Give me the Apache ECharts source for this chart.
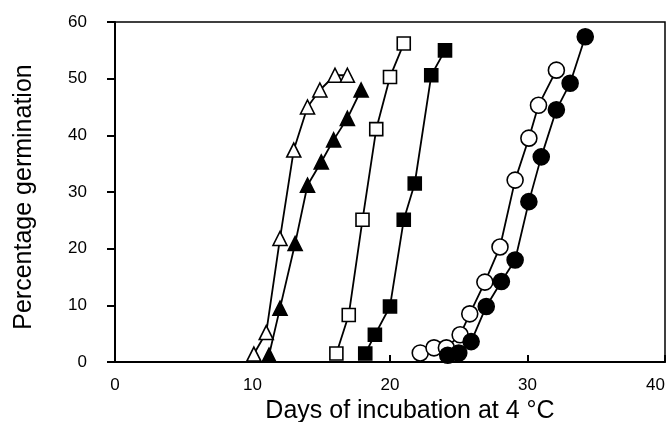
<!DOCTYPE html>
<html>
<head>
<meta charset="utf-8">
<script src="https://cdn.jsdelivr.net/npm/echarts@6/dist/echarts.min.js"></script>
<style>html,body{margin:0;padding:0;background:#fff}#c{width:668px;height:422px}</style>
</head>
<body>
<div id="c"></div>
<script>
// Data (days of incubation, percentage germination)
var xTicks = [0, 10, 20, 30, 40];
var yTicks = [0, 10, 20, 30, 40, 50, 60];

var openTriDays = [10.1, 11.0, 12.0, 13.0, 14.0, 14.9, 16.0, 16.9];
var openTriPct  = [1.4, 5.2, 21.8, 37.4, 45.0, 48.0, 50.6, 50.6];

var fillTriDays = [11.2, 12.0, 13.1, 14.0, 15.0, 15.9, 16.9, 17.9];
var fillTriPct  = [1.2, 9.5, 20.9, 31.2, 35.3, 39.2, 43.0, 48.0];

var openSqDays = [16.1, 17.0, 18.0, 19.0, 20.0, 21.0];
var openSqPct  = [1.5, 8.3, 25.1, 41.1, 50.3, 56.2];

var fillSqDays = [18.2, 18.9, 20.0, 21.0, 21.8, 23.0, 24.0];
var fillSqPct  = [1.5, 4.8, 9.8, 25.1, 31.5, 50.6, 55.0];

var openCircDays = [22.2, 23.2, 24.1, 25.1, 25.8, 26.9, 28.0, 29.1, 30.1, 30.8, 32.1];
var openCircPct  = [1.6, 2.5, 2.5, 4.8, 8.5, 14.1, 20.3, 32.1, 39.5, 45.3, 51.5];

var fillCircDays = [24.2, 25.0, 25.9, 27.0, 28.1, 29.1, 30.1, 31.0, 32.1, 33.1, 34.2];
var fillCircPct  = [1.2, 1.6, 3.6, 9.8, 14.2, 18.0, 28.3, 36.2, 44.5, 49.2, 57.4];

function pairs(xs, ys) { return xs.map(function (x, i) { return [x, ys[i]]; }); }

function mk(xs, ys, symbol, size, filled) {
  return {
    type: 'line',
    data: pairs(xs, ys),
    symbol: symbol,
    symbolSize: size,
    showAllSymbol: true,
    lineStyle: { color: '#000', width: 1.8 },
    itemStyle: { color: filled ? '#000' : '#fff', borderColor: '#000', borderWidth: 1.6 },
    emphasis: { disabled: true },
    animation: false,
    z: filled ? 3 : 2
  };
}

var chart = echarts.init(document.getElementById('c'), null, { renderer: 'canvas' });
var font = '"Liberation Sans", Arial, Helvetica, sans-serif';
chart.setOption({
  animation: false,
  backgroundColor: '#fff',
  grid: {
    left: 115, right: 3, top: 22, bottom: 60,
    outerBoundsMode: 'none', containLabel: false,
    show: true, borderColor: '#000', borderWidth: 1.5, backgroundColor: 'transparent'
  },
  xAxis: {
    type: 'value', min: xTicks[0], max: xTicks[xTicks.length - 1], interval: 10,
    name: 'Days of incubation at 4 °C', nameLocation: 'middle', nameGap: 31,
    nameTextStyle: { fontFamily: font, fontSize: 25, color: '#000', padding: [0, 0, 0, 40] },
    axisLine: { show: true, lineStyle: { color: '#000', width: 2 } },
    axisTick: { show: true, inside: true, length: 7, lineStyle: { color: '#000', width: 2 } },
    axisLabel: { fontFamily: font, fontSize: 17, color: '#000', margin: 15, alignMaxLabel: 'right' },
    splitLine: { show: false }
  },
  yAxis: {
    type: 'value', min: yTicks[0], max: yTicks[yTicks.length - 1], interval: 10,
    name: 'Percentage germination', nameLocation: 'middle', nameGap: 78,
    nameTextStyle: { fontFamily: font, fontSize: 25, color: '#000', padding: [0, 10, 0, 0] },
    axisLine: { show: true, lineStyle: { color: '#000', width: 2 } },
    axisTick: { show: true, inside: false, length: 8, lineStyle: { color: '#000', width: 2 } },
    axisLabel: { fontFamily: font, fontSize: 17, color: '#000', margin: 28 },
    splitLine: { show: false }
  },
  series: [
    mk(openTriDays, openTriPct, 'triangle', 14, false),
    mk(fillTriDays, fillTriPct, 'triangle', 14, true),
    mk(openSqDays, openSqPct, 'rect', 13, false),
    mk(fillSqDays, fillSqPct, 'rect', 13, true),
    mk(openCircDays, openCircPct, 'circle', 16, false),
    mk(fillCircDays, fillCircPct, 'circle', 16, true)
  ]
});
</script>
</body>
</html>
